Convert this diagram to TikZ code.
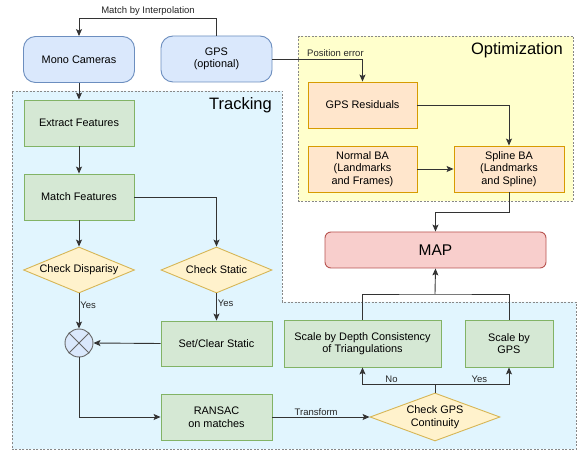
\documentclass[tikz,border=0pt]{standalone}
\usepackage{fontspec}
\setmainfont{Liberation Sans}
\usetikzlibrary{shapes.geometric,arrows.meta,calc}
\definecolor{bluefill}{HTML}{DAE8FC}
\definecolor{bluedraw}{HTML}{6C8EBF}
\definecolor{greenfill}{HTML}{D5E8D4}
\definecolor{greendraw}{HTML}{82B366}
\definecolor{yelfill}{HTML}{FFF2CC}
\definecolor{yeldraw}{HTML}{D6B656}
\definecolor{orfill}{HTML}{FFE6CC}
\definecolor{ordraw}{HTML}{D79B00}
\definecolor{redfill}{HTML}{F8CECC}
\definecolor{reddraw}{HTML}{B85450}
\definecolor{trackfill}{HTML}{E1F5FE}
\definecolor{optfill}{HTML}{FFFFCC}
\definecolor{regdraw}{HTML}{888888}
\definecolor{linecol}{HTML}{333333}
\tikzset{
  base/.style={align=center, inner sep=0pt, font=\fontsize{10.9}{12.5}\selectfont, line width=0.9pt},
  rbox/.style={base, rectangle, rounded corners=12pt, fill=bluefill, draw=bluedraw, minimum width=111pt, minimum height=46pt},
  gbox/.style={base, rectangle, fill=greenfill, draw=greendraw, minimum height=46pt},
  obox/.style={base, rectangle, fill=orfill, draw=ordraw, minimum width=109pt, minimum height=46pt},
  dbox/.style={base, diamond, aspect=2.4, fill=yelfill, draw=yeldraw},
  region/.style={draw=regdraw, dashed, dash pattern=on 2pt off 1.5pt, line width=0.8pt},
  title/.style={font=\fontsize{16.5}{18}\selectfont, inner sep=0pt},
  lbl/.style={font=\fontsize{9.5}{11}\selectfont, inner sep=1pt, text=black!85},
  arr/.style={draw=linecol, line width=0.9pt, -{Stealth[length=7pt,width=6pt,inset=1.5pt]}},
  ln/.style={draw=linecol, line width=0.9pt},
}
\begin{document}
\begin{tikzpicture}[x=1pt,y=-1pt]
\useasboundingbox (0,0) rectangle (587,457);
% regions
\fill[white] (0,0) rectangle (587,457);
\path[region, fill=trackfill] (12,91) -- (282,91) -- (282,302) -- (576,302) -- (576,449) -- (12,449) -- cycle;
\path[region, fill=optfill] (298,36) rectangle (573,201);
\node[title, anchor=east] (ttrack) at (272,105) {Tracking};
\node[title, anchor=east] (topt) at (563,50) {Optimization};
% nodes
\node[rbox] (mono) at (79,59.5) {Mono Cameras};
\node[rbox] (gps) at (216.5,59) {GPS\\(optional)};
\node[gbox, minimum width=110pt] (extract) at (79,123) {Extract Features};
\node[gbox, minimum width=110pt] (match) at (79,197) {Match Features};
\node[dbox, minimum width=111pt, minimum height=46pt] (chkD) at (79,270) {Check Disparisy};
\node[dbox, minimum width=111pt, minimum height=46pt] (chkS) at (216.5,270) {Check Static};
\node[circle, minimum size=28pt, inner sep=0pt, fill=bluefill, draw=black!60, line width=0.9pt] (circ) at (79,343) {};
\draw[black!60, line width=0.9pt] (circ.north east) -- (circ.south west) (circ.north west) -- (circ.south east);
\node[gbox, minimum width=111pt, minimum height=45pt] (setclr) at (216.5,343.5) {Set/Clear Static};
\node[gbox, minimum width=111pt] (ransac) at (216.5,417) {RANSAC\\on matches};
\node[dbox, minimum width=130pt, minimum height=48pt, aspect=2.7] (chkG) at (435,417) {Check GPS\\Continuity};
\node[gbox, minimum width=157pt, minimum height=47pt] (depth) at (362.5,343.5) {Scale by Depth Consistency\\of Triangulations};
\node[gbox, minimum width=88pt, minimum height=47pt] (sgps) at (509,343.5) {Scale by\\GPS};
\node[base, rectangle, rounded corners=6pt, fill=redfill, draw=reddraw, minimum width=221pt, minimum height=36pt, font=\fontsize{15.5}{17}\selectfont] (map) at (435.5,250) {MAP};
\node[obox] (gpsres) at (362.5,105) {GPS Residuals};
\node[obox] (normal) at (362.5,169) {Normal BA\\(Landmarks\\and Frames)};
\node[obox, minimum width=110pt] (spline) at (509,169) {Spline BA\\(Landmarks\\and Spline)};
% connectors
\coordinate (topL) at (216.5,18);
\draw[arr] (gps.north) -- (topL) -| (mono.north);
\node[lbl, fill=white] (lmatch) at (148,11) {Match by Interpolation};
\draw[arr] (mono.south) -- (extract.north);
\draw[arr] (extract.south) -- (match.north);
\draw[arr] (match.east) -| (chkS.north);
\draw[arr] (match.south) -- (chkD.north);
\draw[arr] (chkD.south) -- node[lbl, right, pos=0.35] {Yes} (circ.north);
\draw[arr] (chkS.south) -- node[lbl, right, pos=0.35] {Yes} (setclr.north);
\draw[arr] (setclr.west) -- (circ.east);
\draw[arr] (circ.south) |- (ransac.west);
\draw[arr] (ransac.east) -- node[lbl, above, pos=0.45] {Transform} (chkG.west);
\coordinate (split) at (435,384);
\draw[ln] (chkG.north) -- (split);
\draw[arr] (split) -| node[lbl, above, pos=0.3] {No} (depth.south);
\draw[arr] (split) -| node[lbl, above, pos=0.3] {Yes} (sgps.south);
\coordinate (join) at (435,294);
\draw[ln] (depth.north) |- (join) -| (sgps.north);
\draw[arr] (join) -- (map.south);
\draw[arr] (gps.east) -| (gpsres.north);
\node[lbl, anchor=west] (lpos) at (306,53) {Position error};
\draw[arr] (gpsres.east) -| (spline.north);
\draw[arr] (normal.east) -- (spline.west);
\coordinate (sp) at (509,212);
\draw[arr] (spline.south) -- (sp) -| (map.north);
\end{tikzpicture}
\end{document}
